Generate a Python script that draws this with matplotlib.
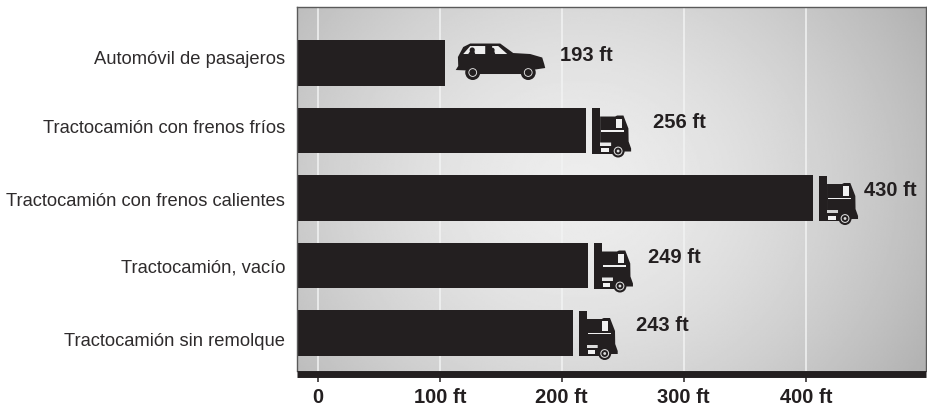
import numpy as np
import matplotlib
matplotlib.use("Agg")
import matplotlib.pyplot as plt
from matplotlib.patches import Polygon, Ellipse
from matplotlib.transforms import ScaledTranslation

categories = ["Automóvil de pasajeros", "Tractocamión con frenos fríos",
              "Tractocamión con frenos calientes", "Tractocamión, vacío",
              "Tractocamión sin remolque"]
bar_ends = [104.5, 220, 406, 221.5, 209]
labels = ["193 ft", "256 ft", "430 ft", "249 ft", "243 ft"]
label_offset = [115, 67, 51, 60, 63]
cat_shift = [6, 4, -1, 0, -6]
tick_vals = [0, 100, 200, 300, 400]
tick_labels = ["0", "100 ft", "200 ft", "300 ft", "400 ft"]

W, H = 928, 407
plt.rcParams["font.family"] = "Liberation Sans"
fig = plt.figure(figsize=(W/100, H/100), dpi=100)
ax = fig.add_axes([297/W, 1-371/H, 629/W, 364/H])
ax.set_xlim(-17, 498.6)
ax.set_ylim(4.563, -0.83)

# px per data unit, icons are drawn in pixel offsets from the bar end
sx = 1.22
sy = 67.5
dark = "#231f20"

# radial background
yy, xx = np.mgrid[0:1:200j, 0:1:400j]
r = np.sqrt(((xx-0.45)/0.62)**2 + ((yy-0.5)/0.95)**2)
bg = 237 - 57*np.clip(r, 0, 1.15)**1.6
ax.imshow(bg, extent=[-17, 498.6, 4.563, -0.83], aspect="auto", cmap="gray",
          vmin=0, vmax=255, zorder=0, interpolation="bilinear")

for v in tick_vals:
    ax.axvline(v, color="#f2f3f3", lw=1.1, zorder=1)

ax.barh(range(5), [e+17 for e in bar_ends], left=-17, height=0.68, color=dark, zorder=2)


def poly(pts, x0, y0, color, z=3):
    pts = [(x0+p[0]/sx, y0+p[1]/sy) for p in pts]
    ax.add_patch(Polygon(pts, closed=True, fc=color, ec="none", zorder=z))


def disc(x, y, x0, y0, r, color, z=4):
    ax.add_patch(Ellipse((x0+x/sx, y0+y/sy), 2*r/sx, 2*r/sy, fc=color, ec="none", zorder=z))


def wheel(x, y, x0, y0, r, rings):
    disc(x, y, x0, y0, r, dark)
    for k, c in rings:
        disc(x, y, x0, y0, r*k, c)


def car(x0, y0):
    body = [(10.5, 7), (13, 3), (12.7, -6), (18, -16), (25, -19.5), (55, -19.5), (68, -10),
            (85, -9), (97, -5.5), (99, 1), (100, 5), (90, 6.5), (84, 11), (32, 11), (24, 7.5)]
    poly(body, x0, y0, dark)
    poly([(18, -9), (25, -17), (40, -17), (40, -9)], x0, y0, "#eeeeee")
    poly([(46, -9), (47, -17), (53, -17), (62, -9)], x0, y0, "#eeeeee")
    # passengers
    disc(27, -13, x0, y0, 2.6, dark)
    poly([(23, -9), (25, -12), (29, -12), (30, -9)], x0, y0, dark, 4)
    disc(47, -13, x0, y0, 2.4, dark)
    poly([(45, -9), (46, -12), (49, -12), (50, -9)], x0, y0, dark, 4)
    wheel(27.5, 9.5, x0, y0, 7.5, [(0.58, "#e4e4e4"), (0.46, dark)])
    wheel(83, 9.5, x0, y0, 7.5, [(0.58, "#e4e4e4"), (0.46, dark)])


def truck(x0, y0):
    poly([(6, -22.5), (14, -22.5), (14, 23), (6, 23)], x0, y0, dark)
    poly([(14, -14), (29, -14), (31, -15), (37.3, -15), (42.3, -2), (42.5, 11), (45, 18), (45, 21),
          (25, 21), (25, 12), (14, 12)], x0, y0, dark)
    poly([(14, 15), (27, 15), (27, 23), (14, 23)], x0, y0, dark)
    poly([(15, 17.5), (22.5, 17.5), (22.5, 21.5), (15, 21.5)], x0, y0, "#f2f2f2")
    poly([(29.7, -12), (35.7, -12), (35.7, -2.5), (29.7, -2.5)], x0, y0, "#f0f0f0")
    poly([(15, -0.5), (38, -0.5), (38, 1), (15, 1)], x0, y0, "#f0f0f0")
    wheel(32, 20.5, x0, y0, 6.5, [(0.68, "#dddddd"), (0.52, dark), (0.22, "#dddddd")])


for i, e in enumerate(bar_ends):
    if i == 0:
        car(e, i)
    else:
        truck(e, i)
    ax.annotate(labels[i], (e, i), xytext=(label_offset[i]*0.72, 5.5), textcoords="offset points",
                fontsize=14.5, fontweight="bold", color=dark, ha="left", va="center")

for s in ["top", "left", "right"]:
    ax.spines[s].set_color("#5a5a5a")
    ax.spines[s].set_linewidth(1.0)
ax.spines["bottom"].set_position(("outward", 2.5))
ax.spines["bottom"].set_linewidth(5)
ax.spines["bottom"].set_color(dark)
ax.spines["bottom"].set_capstyle("butt")

# ticks after the spine move, set_position resets them
ax.set_yticks(range(5))
ax.set_yticklabels(categories, fontsize=13.25, color="#2e2b2c")
ax.tick_params(axis="y", length=0, pad=8.5)
for lab, d in zip(ax.get_yticklabels(), cat_shift):
    lab.set_transform(lab.get_transform() + ScaledTranslation(0, d/72*0.72, fig.dpi_scale_trans))
ax.set_xticks(tick_vals)
ax.set_xticklabels(tick_labels, fontsize=14.5, fontweight="bold", color=dark)
ax.tick_params(axis="x", length=6, width=1.1, color=dark, pad=4)

fig.savefig("out.png", dpi=100)
